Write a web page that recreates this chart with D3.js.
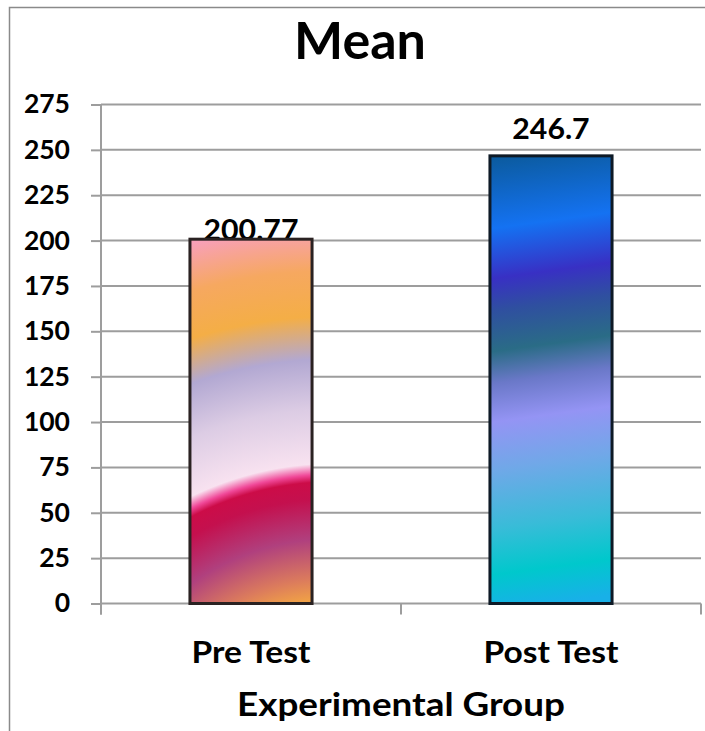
<!DOCTYPE html>
<html>
<head>
<meta charset="utf-8">
<script src="https://cdn.jsdelivr.net/npm/d3@7"></script>
<style>
  html, body { margin: 0; padding: 0; background: #fff; }
  svg { display: block; font-family: Lato, "Open Sans", sans-serif; font-weight: bold; }
</style>
</head>
<body>
<svg id="chart" width="705" height="731"></svg>
<script>
// ---- data ----
const categories = ["Pre Test", "Post Test"];
const means = [200.77, 246.7];
const valueLabels = ["200.77", "246.7"];
const yTicks = [0, 25, 50, 75, 100, 125, 150, 175, 200, 225, 250, 275];
const title = "Mean";
const xTitle = "Experimental Group";

// ---- layout ----
const W = 705, H = 731;
const plot = { left: 101, right: 701, top: 104.5, bottom: 603.5 };
const labelOffsets = [-1, 17]; // label baseline above bar top (px)

const svg = d3.select("#chart");
const defs = svg.append("defs");

const x = d3.scaleBand().domain(categories).range([plot.left, plot.right]).paddingInner(0.593).paddingOuter(0.2965);
const y = d3.scaleLinear().domain([0, 275]).range([plot.bottom, plot.top]);

function stretch(sel, k) {
  sel.each(function () {
    const w = this.getComputedTextLength();
    d3.select(this).attr("textLength", w * k).attr("lengthAdjust", "spacingAndGlyphs");
  });
}

// chart frame
svg.append("path")
  .attr("d", `M9.5,${H} V7.5 H${W}`)
  .attr("fill", "none").attr("stroke", "#8a8a8a").attr("stroke-width", 1.5);

// title
svg.append("text").attr("x", 360).attr("y", 59).attr("text-anchor", "middle")
  .attr("font-size", 52).attr("fill", "#000").text(title);

// gridlines
svg.append("g").selectAll("line").data(yTicks.filter(d => d > 0)).join("line")
  .attr("x1", plot.left).attr("x2", plot.right)
  .attr("y1", d => y(d)).attr("y2", d => y(d))
  .attr("stroke", "#9d9d9d").attr("stroke-width", 2);

// y axis
const yAxis = svg.append("g").attr("transform", `translate(${plot.left},0)`)
  .call(d3.axisLeft(y).tickValues(yTicks).tickSize(10).tickPadding(21).tickSizeOuter(0));
yAxis.select(".domain").remove();
yAxis.append("line").attr("x1", 0).attr("x2", 0).attr("y1", plot.top).attr("y2", plot.bottom + 11)
  .attr("stroke", "#9d9d9d").attr("stroke-width", 2);
yAxis.selectAll(".tick line").attr("stroke", "#9d9d9d").attr("stroke-width", 2);
yAxis.selectAll(".tick text").attr("font-size", 26.5).attr("fill", "#000")
  .attr("font-family", "Lato, sans-serif").attr("font-weight", "bold");

// x axis line + category ticks at band edges
svg.append("line").attr("x1", plot.left).attr("x2", plot.right).attr("y1", plot.bottom).attr("y2", plot.bottom)
  .attr("stroke", "#9d9d9d").attr("stroke-width", 2);
const edges = [plot.left, ...categories.map(c => x(c) - x.step() * x.paddingOuter() + x.step())];
svg.append("g").selectAll("line").data(edges).join("line")
  .attr("x1", d => d).attr("x2", d => d).attr("y1", plot.bottom).attr("y2", plot.bottom + 11)
  .attr("stroke", "#9d9d9d").attr("stroke-width", 2);

// category labels
svg.append("g").selectAll("text").data(categories).join("text")
  .attr("x", d => x(d) + x.bandwidth() / 2).attr("y", 663)
  .attr("text-anchor", "middle").attr("font-size", 30.5).attr("fill", "#000").text(d => d)
  .call(stretch, 1.1);

// axis title
svg.append("text").attr("x", 401).attr("y", 716).attr("text-anchor", "middle")
  .attr("font-size", 32).attr("fill", "#000").text(xTitle)
  .call(stretch, 1.15);

// gradients (derived from bar geometry)
const bx0 = x(categories[0]), bw = x.bandwidth();
const bot = y(0);
const g0 = defs.append("radialGradient").attr("id", "grad0").attr("gradientUnits", "userSpaceOnUse")
  .attr("cx", bx0 + bw * 1.18).attr("cy", bot + 186).attr("r", 570)
  .attr("fx", bx0 + bw * 1.18).attr("fy", bot + 186);
[
  [0, "#f5a640"], [0.33, "#f2a444"], [0.37, "#dc7c5c"], [0.44, "#b0407e"],
  [0.51, "#c4104e"], [0.54, "#cc0c48"], [0.553, "#f04898"], [0.572, "#f8e2f0"],
  [0.667, "#dccce4"], [0.755, "#b2a8d2"], [0.83, "#f4ae46"], [0.91, "#f6a860"],
  [0.99, "#f8a0b8"], [1, "#f8a0b8"]
].forEach(([o, c]) => g0.append("stop").attr("offset", o).attr("stop-color", c));

const bx1 = x(categories[1]);
const top1 = y(means[1]);
const g1 = defs.append("linearGradient").attr("id", "grad1").attr("gradientUnits", "userSpaceOnUse")
  .attr("x1", bx1).attr("y1", top1).attr("x2", bx1 + bw * 0.5).attr("y2", bot);
[
  [0, "#0b5a9c"], [0.16, "#1472f2"], [0.27, "#3830c4"], [0.34, "#2f4fa0"],
  [0.43, "#2a6c86"], [0.5, "#6a78c8"], [0.585, "#9494f4"], [0.69, "#70a8e8"],
  [0.82, "#38bcd8"], [0.92, "#00c8cc"], [1, "#18b0e8"]
].forEach(([o, c]) => g1.append("stop").attr("offset", o).attr("stop-color", c));

// value labels (drawn before bars so the bar edge covers them, as in the reference)
svg.append("g").selectAll("text").data(means).join("text")
  .attr("x", (d, i) => x(categories[i]) + bw / 2)
  .attr("y", (d, i) => y(d) - labelOffsets[i])
  .attr("text-anchor", "middle").attr("font-size", 28).attr("fill", "#000")
  .text((d, i) => valueLabels[i])
  .call(stretch, 1.08);

// bars
svg.append("g").selectAll("rect").data(means).join("rect")
  .attr("x", (d, i) => x(categories[i]))
  .attr("y", d => y(d))
  .attr("width", bw)
  .attr("height", d => y(0) - y(d))
  .attr("fill", (d, i) => `url(#grad${i})`)
  .attr("stroke", (d, i) => i === 0 ? "#2a2222" : "#0e1a26")
  .attr("stroke-width", 3);
</script>
</body>
</html>
